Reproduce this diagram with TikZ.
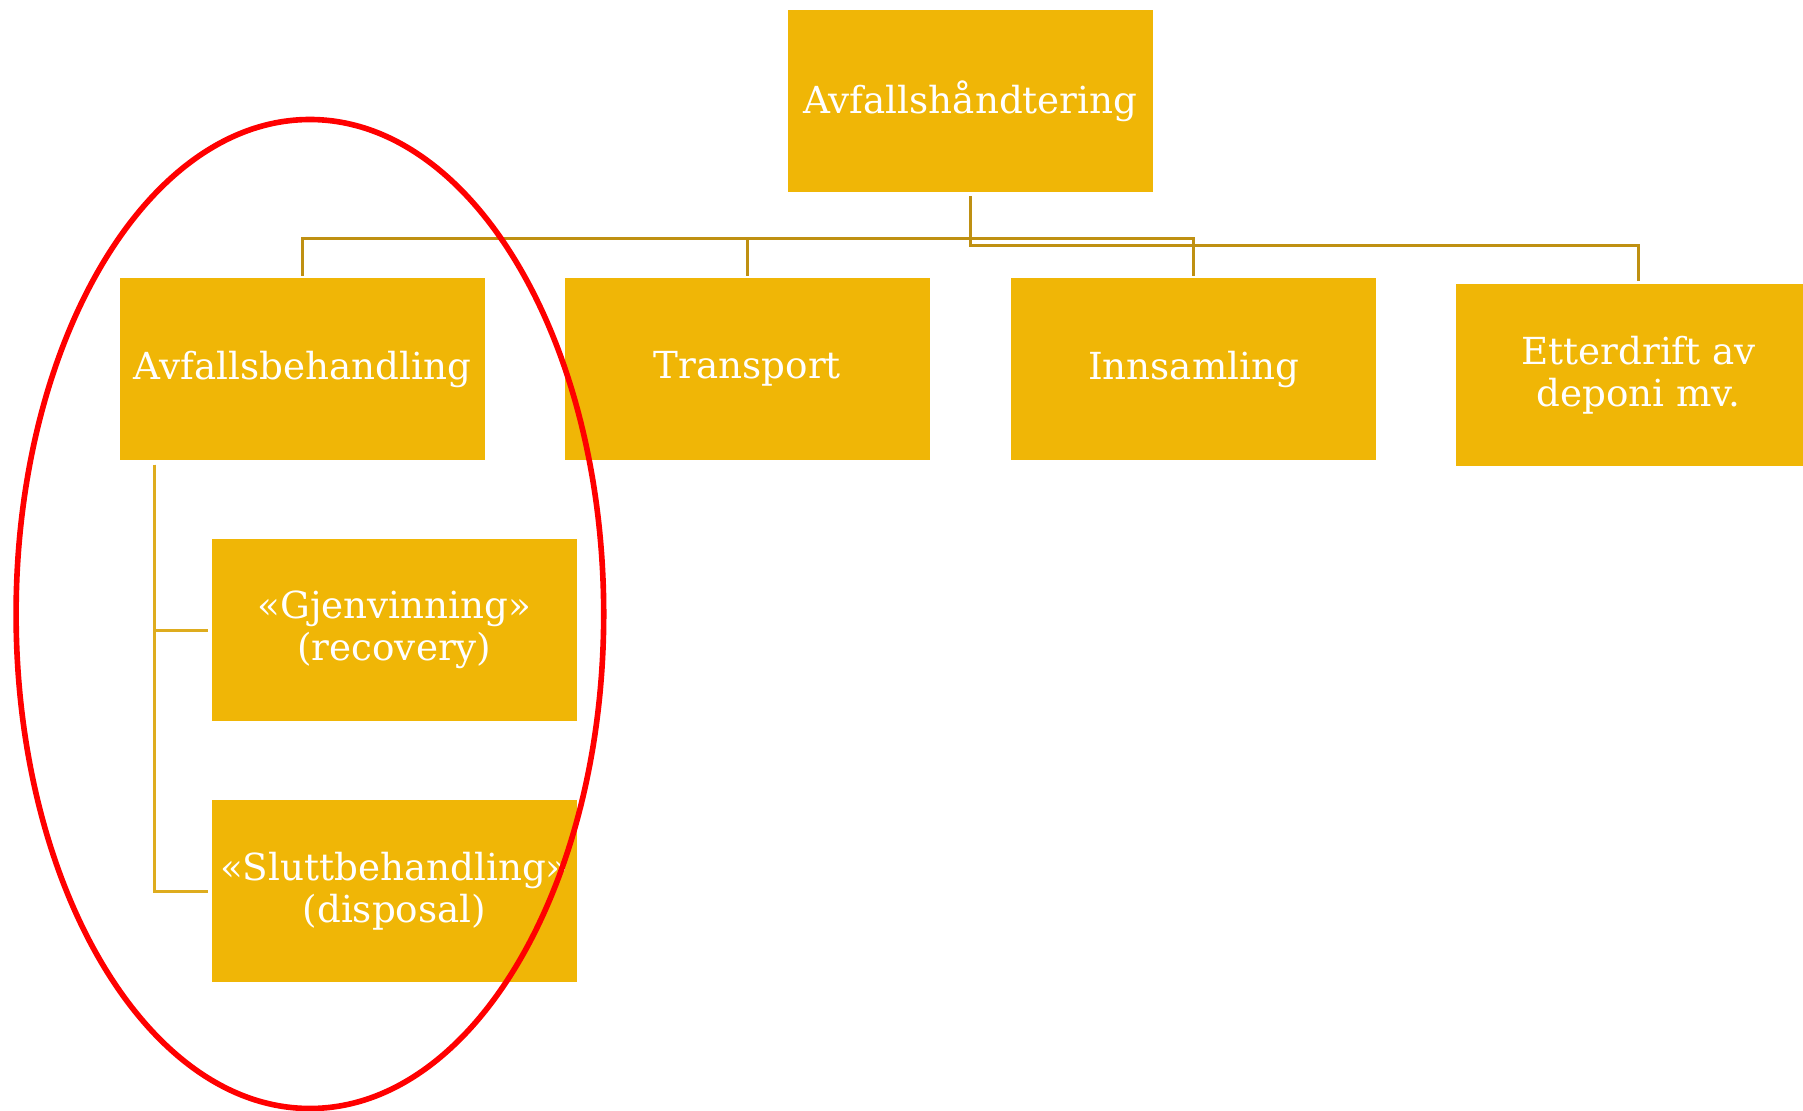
\documentclass[tikz,border=0pt]{standalone}
\usepackage{fontspec}
\setmainfont{DejaVu Serif}
\definecolor{boxgold}{HTML}{F0B606}
\definecolor{linegold}{HTML}{BF9012}
\definecolor{linegoldlight}{HTML}{DEAC1E}
\begin{document}
\begin{tikzpicture}[
    box/.style={fill=boxgold, text=white, minimum width=3.657cm, minimum height=1.817cm,
        inner sep=0pt, align=center, font=\fontsize{10.6pt}{11.9pt}\selectfont},
    conn/.style={draw=linegold, line width=0.8pt, shorten <=0.035cm, shorten >=0.02cm},
    subconn/.style={draw=linegoldlight, line width=0.8pt, shorten <=0.04cm, shorten >=0.025cm}
]
    \useasboundingbox (0,0) rectangle (18.03,-11.11);
    \clip (0,0) rectangle (18.03,-11.11);

    % Top level
    \node[box] (top) at (9.705,-1.012) {Avfallshåndtering};

    % Second level
    \node[box] (behandling) at (3.024,-3.691) {Avfallsbehandling};
    \node[box] (transport) at (7.474,-3.691) {Transport};
    \node[box] (innsamling) at (11.936,-3.691) {Innsamling};
    \node[box] (etterdrift) at (16.386,-3.749) {Etterdrift av\\deponi mv.};

    % Under Avfallsbehandling
    \node[box] (gjenvinning) at (3.944,-6.301) {«Gjenvinning»\\(recovery)};
    \node[box] (slutt) at (3.944,-8.912) {«Sluttbehandling»\\(disposal)};

    % Tree lines
    \draw[conn] (top.south) -- ++(0,-0.46) -| (behandling.north);
    \draw[conn] (top.south) -- ++(0,-0.46) -| (transport.north);
    \draw[conn] (top.south) -- ++(0,-0.46) -| (innsamling.north);
    \draw[conn] (top.south) -- ++(0,-0.53) -| (etterdrift.north);
    \draw[subconn] ([xshift=0.356cm]behandling.south west) |- (gjenvinning.west);
    \draw[subconn] ([xshift=0.356cm]behandling.south west) |- (slutt.west);

    % Red ring round the treatment branch
    \draw[red, line width=1.6pt] (3.099,-6.14) ellipse [x radius=2.938, y radius=4.945];
\end{tikzpicture}
\end{document}
